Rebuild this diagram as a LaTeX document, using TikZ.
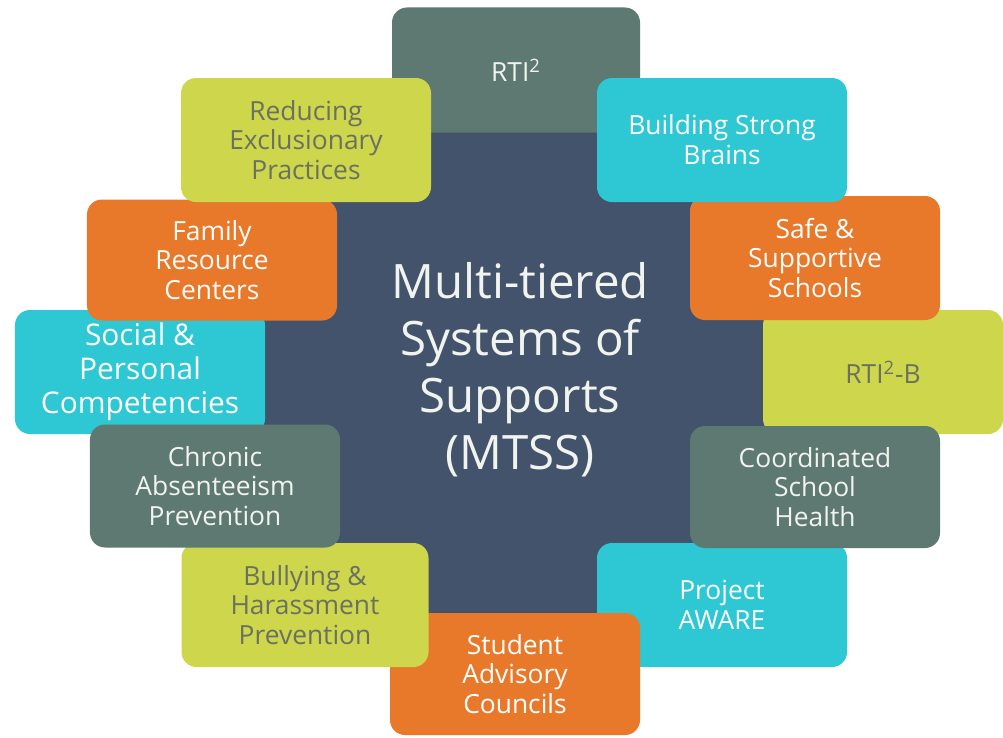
\documentclass[tikz,border=0pt]{standalone}
\usepackage{fontspec}
\setmainfont{Open Sans}
\definecolor{mtnavy}{HTML}{43536B}
\definecolor{mtslate}{HTML}{5E7872}
\definecolor{mtlime}{HTML}{CED64B}
\definecolor{mtcyan}{HTML}{2EC7D4}
\definecolor{mtorange}{HTML}{E8782A}
\definecolor{limeink}{HTML}{6B7062}
\definecolor{paleink}{HTML}{F1F3EE}
\tikzset{
  tile/.style={rounded corners=3mm, minimum width=50mm, minimum height=24.8mm,
    align=center, inner sep=0pt, font=\fontsize{15}{17}\selectfont},
  slatetile/.style={tile, fill=mtslate, text=paleink},
  limetile/.style={tile, fill=mtlime, text=limeink},
  cyantile/.style={tile, fill=mtcyan, text=white},
  orangetile/.style={tile, fill=mtorange, text=white}
}
\begin{document}
\begin{tikzpicture}[x=0.2mm, y=-0.2mm]
  \useasboundingbox (0,0) rectangle (1003,737);
  % centre block
  \node[fill=mtnavy, minimum width=103.2mm, minimum height=108mm, inner sep=0pt,
        align=center, text=paleink, font=\fontsize{27}{32.4}\selectfont]
        (mtss) at (520,370) {Multi-tiered\\Systems of\\Supports\\(MTSS)};
  % tiles, back to front
  \node[slatetile, minimum width=49.6mm, minimum height=25mm] (rti) at (516,70) {RTI\textsuperscript{2}};
  \node[cyantile, font=\fontsize{17}{19.3}\selectfont] (social) at (140,372) {Social \&\\Personal\\Competencies};
  \node[orangetile, minimum height=24.2mm] (family) at (212,260) {Family\\Resource\\Centers};
  \node[limetile] (reduce) at (306,140) {Reducing\\Exclusionary\\Practices};
  \node[limetile, minimum width=48mm] (rtib) at (883,372) {RTI\textsuperscript{2}-B};
  \node[orangetile] (safe) at (815,258) {Safe \&\\Supportive\\Schools};
  \node[cyantile] (brains) at (722,140) {Building Strong\\Brains};
  \node[cyantile] (aware) at (722,605) {Project\\AWARE};
  \node[orangetile, minimum height=24.4mm] (student) at (515,674) {Student\\Advisory\\Councils};
  \node[limetile, minimum width=49.4mm] (bully) at (305,605) {Bullying \&\\Harassment\\Prevention};
  \node[slatetile, minimum height=24.6mm] (chronic) at (215,486) {Chronic\\Absenteeism\\Prevention};
  \node[slatetile, minimum height=24.4mm] (coord) at (815,487) {Coordinated\\School\\Health};
\end{tikzpicture}
\end{document}
